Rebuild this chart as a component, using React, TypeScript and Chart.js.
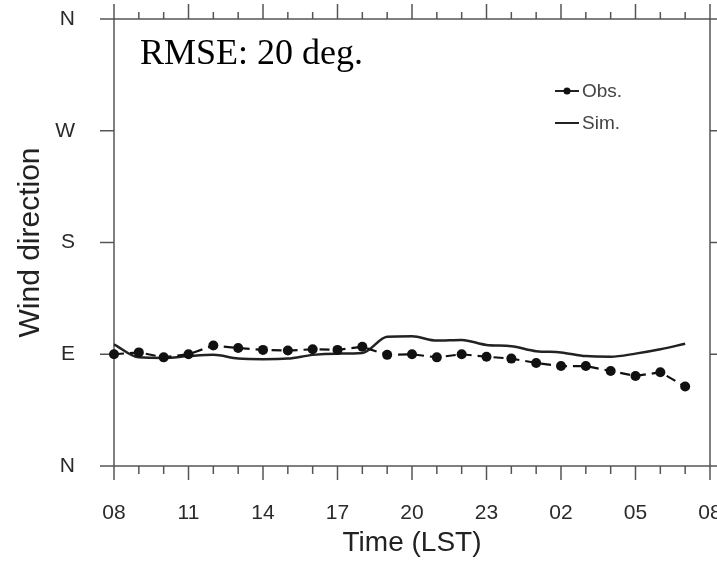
import React, { useEffect, useRef } from "react";
import { Chart, registerables } from "chart.js";

Chart.register(...registerables);

// Hours after 08 LST (0 = 08 LST, 23 = 07 LST next day)
const hours = [0, 1, 2, 3, 4, 5, 6, 7, 8, 9, 10, 11, 12, 13, 14, 15, 16, 17, 18, 19, 20, 21, 22, 23];
// Observed wind direction (degrees)
const obsDir = [90, 91.5, 87.5, 90, 97, 95, 93.5, 93, 94, 93.5, 96, 89.5, 90, 87.5, 90, 88, 86.5, 83, 80.5, 80.5, 76.5, 72.5, 75.5, 64];
// Simulated wind direction (degrees)
const simDir = [98, 87.5, 87, 88.5, 89.5, 86.5, 86, 86.5, 89.5, 90.5, 91, 104, 104.5, 101, 101.5, 97.5, 96.5, 92.5, 91.5, 88.5, 88, 90.5, 94, 98.5];

const xTickLabels = ["08", "11", "14", "17", "20", "23", "02", "05", "08"];
const yTickLabels = ["N", "E", "S", "W", "N"];
const seriesLabels = ["Obs.", "Sim."];
const rmseText = "RMSE: 20 deg.";

const SANS = '"Liberation Sans", Arial, Helvetica, sans-serif';
const SERIF = '"Liberation Serif", "Times New Roman", serif';

const framePlugin = {
  id: "frameTicks",
  beforeDatasetsDraw(chart: any) {
    const { ctx, chartArea, scales } = chart;
    const { left, right, top, bottom } = chartArea;
    const x = scales.x;
    const y = scales.y;
    ctx.save();
    ctx.strokeStyle = "#555";
    ctx.lineWidth = 1.5;
    ctx.strokeRect(left, top, right - left, bottom - top);
    const line = (x1: number, y1: number, x2: number, y2: number) => {
      ctx.beginPath();
      ctx.moveTo(x1, y1);
      ctx.lineTo(x2, y2);
      ctx.stroke();
    };
    for (let h = 0; h <= 24; h++) {
      const px = x.getPixelForValue(h);
      const major = h % 3 === 0;
      line(px, bottom, px, bottom + (major ? 14 : 8));
      line(px, top, px, top - (major ? 15 : 7));
    }
    for (let d = 0; d <= 360; d += 90) {
      const py = y.getPixelForValue(d);
      line(left - 14, py, left, py);
      line(right, py, right + 14, py);
    }
    ctx.restore();
  },
  afterDraw(chart: any) {
    const { ctx } = chart;
    ctx.save();
    // RMSE annotation
    ctx.fillStyle = "#000";
    ctx.font = `36px ${SERIF}`;
    ctx.textBaseline = "alphabetic";
    ctx.textAlign = "left";
    ctx.fillText(rmseText, 140, 64);
    // Legend
    const ds = chart.data.datasets;
    ctx.font = `19px ${SANS}`;
    ctx.textBaseline = "middle";
    const rows = [91, 123];
    ds.forEach((d: any, i: number) => {
      const yy = rows[i];
      ctx.strokeStyle = "#222";
      ctx.lineWidth = 2;
      ctx.beginPath();
      ctx.moveTo(555, yy);
      ctx.lineTo(579, yy);
      ctx.stroke();
      if (i === 0) {
        ctx.fillStyle = "#111";
        ctx.beginPath();
        ctx.arc(567, yy, 3.5, 0, Math.PI * 2);
        ctx.fill();
      }
      ctx.fillStyle = "#444";
      ctx.fillText(d.label, 582, yy + 1);
    });
    ctx.restore();
  },
};

export default function App() {
  const ref = useRef<HTMLCanvasElement | null>(null);
  useEffect(() => {
    if (!ref.current) return;
    const chart = new Chart(ref.current, {
      type: "line",
      data: {
        datasets: [
          {
            label: seriesLabels[0],
            data: hours.map((h, i) => ({ x: h, y: obsDir[i] })),
            borderColor: "#111",
            backgroundColor: "#111",
            borderWidth: 2.2,
            borderDash: [10, 6],
            pointRadius: 5,
            pointBackgroundColor: "#111",
            pointBorderWidth: 0,
            clip: false,
          },
          {
            label: seriesLabels[1],
            data: hours.map((h, i) => ({ x: h, y: simDir[i] })),
            borderColor: "#222",
            borderWidth: 2.5,
            pointRadius: 0,
            cubicInterpolationMode: "monotone",
            clip: false,
          },
        ],
      },
      options: {
        animation: false,
        responsive: false,
        layout: { padding: { top: 19, right: 7, left: 0, bottom: 0 } },
        plugins: { legend: { display: false }, tooltip: { enabled: false } },
        scales: {
          x: {
            type: "linear",
            min: 0,
            max: 24,
            afterFit: (s: any) => {
              s.height = 96;
              s.paddingLeft = 0;
              s.paddingRight = 0;
              s.paddingTop = 0;
              s.paddingBottom = 0;
            },
            grid: { display: false },
            border: { display: false },
            ticks: {
              stepSize: 3,
              autoSkip: false,
              maxRotation: 0,
              padding: 27,
              color: "#2a2a2a",
              font: { family: SANS, size: 21 },
              callback: (v: any) => xTickLabels[Math.round(Number(v) / 3)],
            },
            title: {
              display: true,
              text: "Time (LST)",
              color: "#222",
              font: { family: SANS, size: 28 },
              padding: { top: 0, bottom: 2 },
            },
          },
          y: {
            type: "linear",
            min: 0,
            max: 360,
            afterFit: (s: any) => {
              s.width = 114;
              s.paddingLeft = 0;
              s.paddingRight = 0;
              s.paddingTop = 0;
              s.paddingBottom = 0;
            },
            grid: { display: false },
            border: { display: false },
            ticks: {
              stepSize: 90,
              padding: 31,
              color: "#2a2a2a",
              font: { family: SANS, size: 21 },
              callback: (v: any) => yTickLabels[Math.round(Number(v) / 90)],
            },
            title: {
              display: true,
              text: "Wind direction",
              color: "#222",
              font: { family: SANS, size: 30 },
              padding: { top: 13, bottom: 0 },
            },
          },
        },
      },
      plugins: [framePlugin],
    });
    return () => chart.destroy();
  }, []);
  return (
    <canvas
      ref={ref}
      width={717}
      height={562}
      style={{ position: "absolute", left: 0, top: 0, display: "block", background: "#fff" }}
    />
  );
}
